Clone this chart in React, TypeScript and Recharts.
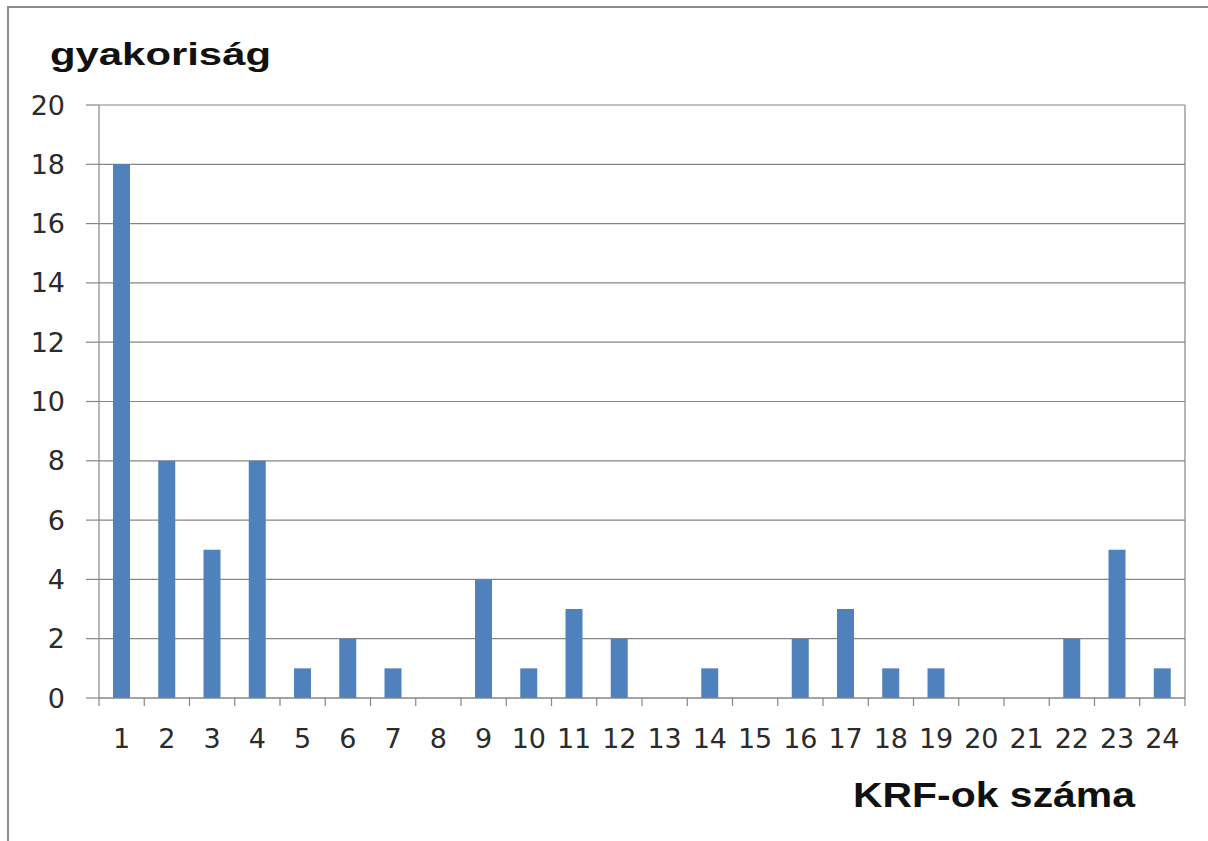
import React from 'react';
import { BarChart, Bar, XAxis, YAxis, CartesianGrid } from 'recharts';

const categories = ['1', '2', '3', '4', '5', '6', '7', '8', '9', '10', '11', '12', '13', '14', '15', '16', '17', '18', '19', '20', '21', '22', '23', '24'];
const frequencies = [18, 8, 5, 8, 1, 2, 1, 0, 4, 1, 3, 2, 0, 1, 0, 2, 3, 1, 1, 0, 0, 2, 5, 1];
const yTicks = [0, 2, 4, 6, 8, 10, 12, 14, 16, 18, 20];
const yTitle = 'gyakoriság';
const xTitle = 'KRF-ok száma';

const W = 1208;
const H = 841;
const MARGIN = { top: 105, right: 23, left: 8, bottom: 83 };
const Y_AXIS_W = 91;
const PLOT_W = W - MARGIN.left - MARGIN.right - Y_AXIS_W;
const GRID = '#868686';
const TEXT = '#2b2b2b';
const FONT = '"DejaVu Sans", sans-serif';

const data = categories.map((c, i) => ({ k: c, v: frequencies[i] }));

function XTick(props: any) {
  const { x, y, payload } = props;
  const bw = PLOT_W / categories.length;
  const isLast = payload.value === categories[categories.length - 1];
  return (
    <g>
      <line x1={x - bw / 2} x2={x - bw / 2} y1={y} y2={y + 8} stroke={GRID} strokeWidth={1.2} />
      {isLast && <line x1={x + bw / 2} x2={x + bw / 2} y1={y} y2={y + 8} stroke={GRID} strokeWidth={1.2} />}
      <text x={x} y={y + 50} textAnchor="middle" fill={TEXT} fontSize={27} fontFamily={FONT}>
        {payload.value}
      </text>
    </g>
  );
}

export default function App() {
  return (
    <div style={{ position: 'absolute', left: 0, top: 0, width: W, height: H, overflow: 'hidden', background: '#fff' }}>
      <div style={{ position: 'absolute', left: 7, top: 6, width: 1400, height: 1000, border: '2px solid #8c8c8c' }} />
      <div style={{ position: 'absolute', left: 0, top: 0 }}>
        <BarChart width={W} height={H} data={data} margin={MARGIN} barSize={17}>
          <CartesianGrid stroke={GRID} strokeWidth={1.2} vertical={true} verticalPoints={[W - MARGIN.right]} />
          <XAxis
            dataKey="k"
            height={60}
            axisLine={{ stroke: GRID, strokeWidth: 1.2 }}
            tickLine={false}
            tickSize={0}
            tickMargin={0}
            interval={0}
            tick={<XTick />}
          />
          <YAxis
            width={Y_AXIS_W}
            domain={[0, 20]}
            ticks={yTicks}
            interval={0}
            axisLine={{ stroke: GRID, strokeWidth: 1.2 }}
            tickLine={{ stroke: GRID, strokeWidth: 1.2 }}
            tickSize={13}
            tickMargin={21}
            tick={{ fill: TEXT, fontSize: 27, fontFamily: FONT }}
          />
          <Bar dataKey="v" fill="#4F81BD" isAnimationActive={false} />
        </BarChart>
      </div>
      <svg width={W} height={H} style={{ position: 'absolute', left: 0, top: 0, pointerEvents: 'none' }}>
        <text x={50} y={65} fontSize={31} fontWeight="bold" fontFamily='"Liberation Sans", Arial, sans-serif' fill="#111" textLength={221} lengthAdjust="spacingAndGlyphs">
          {yTitle}
        </text>
        <text x={853} y={807} fontSize={35} fontWeight="bold" fontFamily='"Liberation Sans", Arial, sans-serif' fill="#111" textLength={282} lengthAdjust="spacingAndGlyphs">
          {xTitle}
        </text>
      </svg>
    </div>
  );
}
